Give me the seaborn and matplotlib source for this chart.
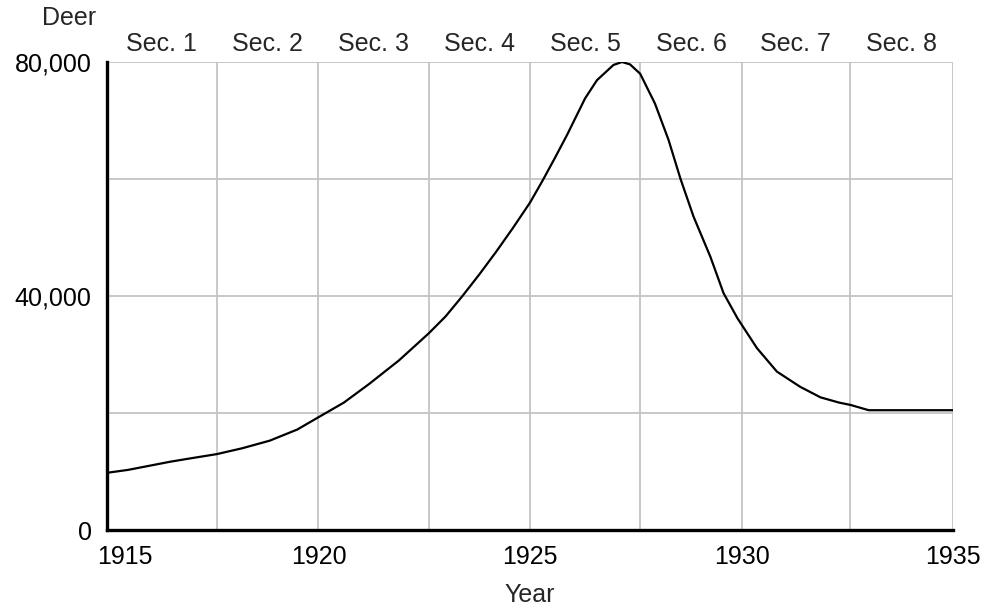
import seaborn as sns
import matplotlib.pyplot as plt
import matplotlib.transforms as mtransforms
import pandas as pd

# Deer population
years = [1915.0, 1915.5, 1916.0, 1916.5, 1917.0, 1917.6, 1918.2, 1918.85, 1919.5,
         1920.0, 1920.6, 1921.2, 1921.9, 1922.6, 1923.0, 1923.4, 1923.8, 1924.2,
         1924.6, 1925.0, 1925.3, 1925.6, 1925.87, 1926.3, 1926.58, 1926.97, 1927.17,
         1927.36, 1927.6, 1927.95, 1928.27, 1928.55, 1928.86, 1929.26, 1929.57,
         1929.9, 1930.36, 1930.83, 1931.38, 1931.86, 1932.3, 1932.57, 1933.0, 1935.0]
deer = [9800, 10300, 11000, 11700, 12300, 13000, 14000, 15300, 17200,
        19300, 21800, 25000, 29000, 33600, 36500, 40000, 43700, 47600,
        51700, 56000, 59800, 63800, 67500, 73800, 76900, 79500, 80000,
        79600, 78000, 72900, 66700, 60100, 53600, 46700, 40500,
        36200, 31100, 27100, 24500, 22700, 21800, 21400, 20500, 20500]

# section boundaries and labels
sec_edges = [1915, 1917.6, 1920, 1922.6, 1925, 1927.6, 1930, 1932.55, 1935]
sec_labels = ["Sec. 1", "Sec. 2", "Sec. 3", "Sec. 4", "Sec. 5", "Sec. 6", "Sec. 7", "Sec. 8"]

x_ticks = [1915, 1920, 1925, 1930, 1935]
y_ticks = [0, 20000, 40000, 60000, 80000]
y_tick_labels = ["0", "", "40,000", "", "80,000"]

df = pd.DataFrame({"Year": years, "Deer": deer})

sns.set_style("white")
plt.rcParams['font.family'] = ['Liberation Sans', 'DejaVu Sans']
fs = 18

fig = plt.figure(figsize=(9.89, 6.08), dpi=100)
ax = fig.add_axes([0.108, 0.128, 0.856, 0.770])

# grid lines
for x in sec_edges[1:]:
    ax.axvline(x, color="#c4c4c4", lw=1.3, zorder=1)
for y in y_ticks[1:]:
    ax.axhline(y, color="#c4c4c4", lw=1.3, zorder=1)

sns.lineplot(data=df, x="Year", y="Deer", color="black", lw=1.6, ax=ax, zorder=3)

ax.set_xlim(1915, 1935)
ax.set_ylim(0, 80000)
ax.set_xticks(x_ticks)
ax.set_xticklabels([str(t) for t in x_ticks], fontsize=fs)
ax.set_yticks(y_ticks)
ax.set_yticklabels(y_tick_labels, fontsize=fs)
ax.tick_params(axis="x", direction="out", length=5, width=2.2, pad=6, colors="black")
ax.tick_params(axis="y", direction="out", length=7, width=2.2, pad=4, colors="black")

# first year label sits to the right of its tick, as in the reference
first = ax.get_xticklabels()[0]
first.set_horizontalalignment("left")
first.set_transform(first.get_transform() +
                    mtransforms.ScaledTranslation(-10 / 100, 0, fig.dpi_scale_trans))

for side in ["top", "right"]:
    ax.spines[side].set_visible(False)
for side in ["left", "bottom"]:
    ax.spines[side].set_linewidth(2.4)
    ax.spines[side].set_color("black")
    ax.spines[side].set_zorder(4)

ax.set_xlabel("Year", fontsize=fs, labelpad=10)
ax.set_ylabel("")

# section labels above the plot
trans = mtransforms.blended_transform_factory(ax.transData, ax.transAxes)
for i, lab in enumerate(sec_labels):
    xc = (sec_edges[i] + sec_edges[i + 1]) / 2
    ax.text(xc, 1.038, lab, transform=trans, ha="center", va="center", fontsize=fs)

fig.text(69 / 989, 1 - 18 / 608, "Deer", ha="center", va="center", fontsize=fs)

fig.savefig("out.png", dpi=100)
